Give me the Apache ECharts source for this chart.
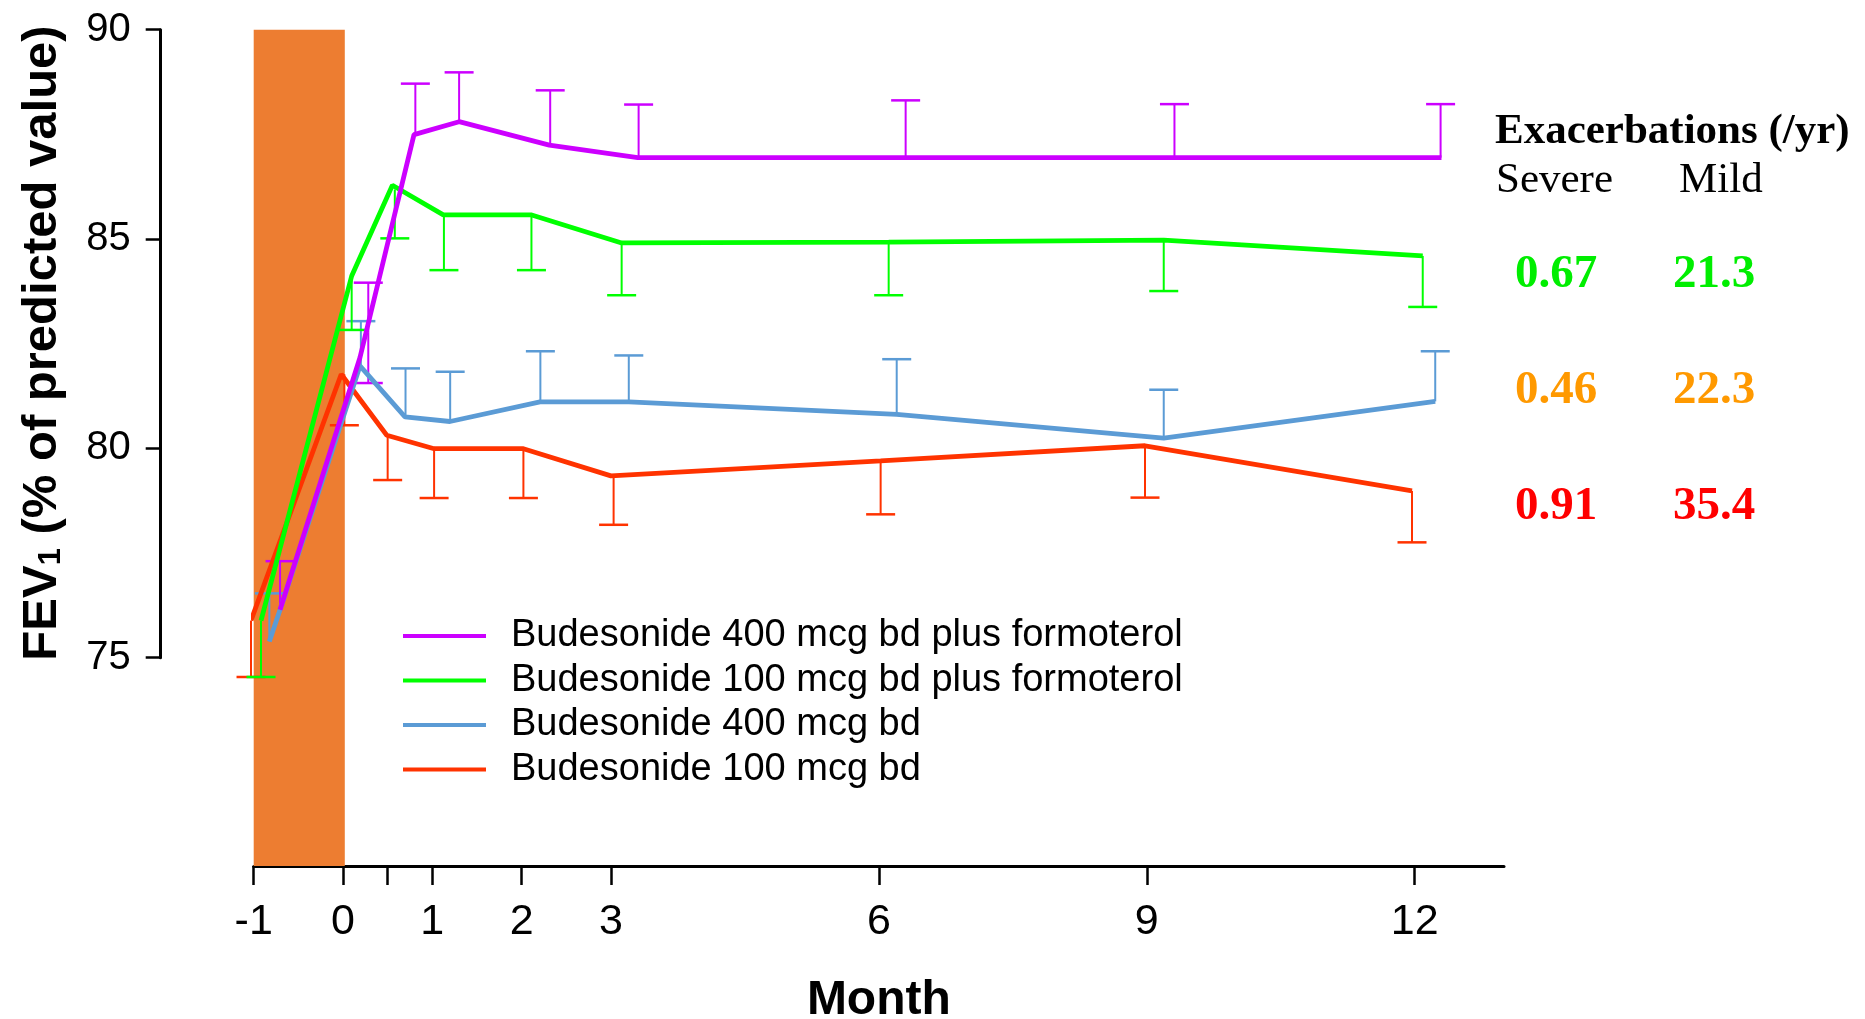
<!DOCTYPE html>
<html>
<head>
<meta charset="utf-8">
<script src="https://cdn.jsdelivr.net/npm/echarts@6/dist/echarts.min.js"></script>
<style>
html,body{margin:0;padding:0;background:#fff;}
#chart{width:1865px;height:1019px;}
</style>
</head>
<body>
<div id="chart"></div>
<script>
// ---------- data ----------
const seriesNames = [
  'Budesonide 400 mcg bd plus formoterol',
  'Budesonide 100 mcg bd plus formoterol',
  'Budesonide 400 mcg bd',
  'Budesonide 100 mcg bd'
];
const seriesColors = ['#CC00FF', '#00FF00', '#5B9BD5', '#FF3300'];

const xTickValues = [-1, 0, 0.5, 1, 2, 3, 6, 9, 12];
const xLabelValues = [-1, 0, 1, 2, 3, 6, 9, 12];
const yLabelValues = [75, 80, 85, 90];
const runInPeriod = [-1.04, 0.02];

// Budesonide 400 + formoterol
const purpleMonths = [-0.705, 0.19, 0.795, 1.30, 2.31, 3.30, 6.30, 9.31, 12.30];
const purpleFEV1   = [76.13, 82.16, 87.49, 87.80, 87.24, 86.94, 86.94, 86.94, 86.94];
const purpleErrMonths = [-0.705, 0.283, 0.283, 0.81, 1.30, 2.32, 3.31, 6.30, 9.31, 12.29];
const purpleErrBase   = [76.13, 82.75, 82.75, 87.49, 87.80, 87.24, 86.94, 86.94, 86.94, 86.94];
const purpleErrCap    = [77.29, 83.95, 81.55, 88.71, 88.98, 88.55, 88.21, 88.31, 88.22, 88.22];

// Budesonide 100 + formoterol
const greenMonths = [-0.918, 0.097, 0.553, 1.123, 2.113, 3.12, 6.11, 9.19, 12.09];
const greenFEV1   = [75.87, 84.11, 86.28, 85.57, 85.57, 84.90, 84.92, 84.97, 84.59];
const greenErrMonths = [-0.918, 0.097, 0.58, 1.13, 2.11, 3.12, 6.11, 9.19, 12.09];
const greenErrBase   = [75.87, 84.11, 86.18, 85.57, 85.57, 84.90, 84.92, 84.97, 84.59];
const greenErrCap    = [74.52, 82.82, 85.01, 84.25, 84.25, 83.65, 83.65, 83.75, 83.37];

// Budesonide 400
const blueMonths = [-0.825, -0.705, 0.19, 0.694, 1.198, 2.206, 3.203, 6.20, 9.19, 12.23];
const blueFEV1   = [75.37, 76.13, 81.96, 80.74, 80.63, 81.10, 81.10, 80.80, 80.23, 81.11];
const blueErrMonths = [-0.825, 0.20, 0.70, 1.20, 2.21, 3.20, 6.20, 9.19, 12.23];
const blueErrBase   = [75.37, 81.96, 80.74, 80.63, 81.10, 81.10, 80.80, 80.23, 81.11];
const blueErrCap    = [76.52, 83.03, 81.90, 81.82, 82.31, 82.21, 82.12, 81.39, 82.31];

// Budesonide 100
const redMonths = [-1.03, -0.02, 0.49, 1.02, 2.02, 3.0, 6.02, 8.98, 11.97];
const redFEV1   = [75.87, 81.76, 80.30, 79.98, 79.98, 79.33, 79.69, 80.05, 78.97];
const redErrMonths = [-1.03, 0.015, 0.50, 1.02, 2.02, 3.03, 6.02, 8.98, 11.97];
const redErrBase   = [75.87, 81.76, 80.30, 79.98, 79.98, 79.33, 79.69, 80.05, 78.97];
const redErrCap    = [74.52, 80.54, 79.23, 78.80, 78.80, 78.16, 78.41, 78.81, 77.74];

// Exacerbation table
const exacTitle = 'Exacerbations (/yr)';
const exacHeaders = ['Severe', 'Mild'];
const exacSevere = ['0.67', '0.46', '0.91'];
const exacMild = ['21.3', '22.3', '35.4'];
const exacColors = ['#00EE00', '#FF9900', '#FF0000'];

// ---------- build ----------
function pairs(xs, ys) { return xs.map((x, i) => [x, ys[i]]); }
function triples(xs, a, b) { return xs.map((x, i) => [x, a[i], b[i]]); }

function errRender(color) {
  return function (params, api) {
    const x = api.value(0), a = api.value(1), b = api.value(2);
    const p1 = api.coord([x, a]);
    const p2 = api.coord([x, b]);
    const hw = 14.5;
    return {
      type: 'group',
      children: [
        { type: 'line', shape: { x1: p1[0], y1: p1[1], x2: p2[0], y2: p2[1] },
          style: { stroke: color, lineWidth: 2 } },
        { type: 'line', shape: { x1: p2[0] - hw, y1: p2[1], x2: p2[0] + hw, y2: p2[1] },
          style: { stroke: color, lineWidth: 2.5 } }
      ]
    };
  };
}

const lineData = [
  pairs(purpleMonths, purpleFEV1),
  pairs(greenMonths, greenFEV1),
  pairs(blueMonths, blueFEV1),
  pairs(redMonths, redFEV1)
];
const errData = [
  triples(purpleErrMonths, purpleErrBase, purpleErrCap),
  triples(greenErrMonths, greenErrBase, greenErrCap),
  triples(blueErrMonths, blueErrBase, blueErrCap),
  triples(redErrMonths, redErrBase, redErrCap)
];

const series = [];
// shaded run-in period
series.push({
  type: 'line', xAxisIndex: 0, yAxisIndex: 0, data: [], silent: true, z: 1, clip: false,
  markArea: {
    silent: true,
    itemStyle: { color: '#ED7D31', opacity: 1 },
    data: [[{ xAxis: runInPeriod[0], yAxis: 90 }, { xAxis: runInPeriod[1], yAxis: 69.95 }]]
  }
});
// draw order: red, blue, green, purple
[3, 2, 1, 0].forEach(i => {
  series.push({
    name: seriesNames[i], type: 'line', xAxisIndex: 0, yAxisIndex: 0,
    data: lineData[i], symbol: 'none', color: seriesColors[i], clip: false,
    lineStyle: { width: 4.8, color: seriesColors[i] }, z: 3
  });
  series.push({
    name: seriesNames[i] + ' SE', type: 'custom', xAxisIndex: 0, yAxisIndex: 0, clip: false,
    data: errData[i], renderItem: errRender(seriesColors[i]), z: 3
  });
});

const gridLeft = 253.7, gridRight = 361, gridTop = 29.7;

const graphics = [];
graphics.push({
  type: 'text', x: 41, y: 343, rotation: Math.PI / 2,
  style: {
    text: '{a|FEV}{s|1}{a| (% of predicted value)}',
    rich: {
      a: { fontSize: 49, fontWeight: 'bold', fontFamily: 'Liberation Sans', fill: '#000', lineHeight: 52, verticalAlign: 'bottom' },
      s: { fontSize: 31, fontWeight: 'bold', fontFamily: 'Liberation Sans', fill: '#000', lineHeight: 30, verticalAlign: 'bottom' }
    },
    align: 'center', verticalAlign: 'middle', textAlign: 'center', textVerticalAlign: 'middle'
  }
});
graphics.push({
  type: 'text', x: 1495, y: 132,
  style: { text: exacTitle, font: 'bold 43px "Liberation Serif"', fill: '#000',
           align: 'left', verticalAlign: 'middle', textAlign: 'left', textVerticalAlign: 'middle' }
});
const colX = [1496, 1679];
exacHeaders.forEach((h, j) => {
  graphics.push({
    type: 'text', x: colX[j], y: 181,
    style: { text: h, font: '43px "Liberation Serif"', fill: '#000',
             align: 'left', verticalAlign: 'middle', textAlign: 'left', textVerticalAlign: 'middle' }
  });
});
const rowY = [275.3, 390.7, 507.3];
const valX = [1515, 1673];
rowY.forEach((y, r) => {
  [exacSevere[r], exacMild[r]].forEach((t, j) => {
    graphics.push({
      type: 'text', x: valX[j], y: y,
      style: { text: t, font: 'bold 47px "Liberation Serif"', fill: exacColors[r],
               align: 'left', verticalAlign: 'middle', textAlign: 'left', textVerticalAlign: 'middle' }
    });
  });
});

const option = {
  animation: false,
  backgroundColor: '#fff',
  grid: [
    { left: gridLeft, right: gridRight, top: gridTop, bottom: 153, containLabel: false, outerBoundsMode: 'none' },
    { left: gridLeft, right: gridRight, top: gridTop, bottom: 361.3, containLabel: false, outerBoundsMode: 'none' }
  ],
  xAxis: [
    {
      gridIndex: 0, type: 'value', min: -1, max: 13,
      axisLine: { show: true, onZero: false, lineStyle: { color: '#000', width: 3 } },
      axisTick: { show: true, inside: false, length: 19, customValues: xTickValues,
                  lineStyle: { color: '#000', width: 2.5 } },
      axisLabel: { show: true, customValues: xLabelValues, margin: 35, fontSize: 43,
                   fontFamily: 'Liberation Sans', color: '#000' },
      splitLine: { show: false },
      name: 'Month', nameLocation: 'middle', nameGap: 111,
      nameTextStyle: { fontSize: 48, fontWeight: 'bold', fontFamily: 'Liberation Sans', color: '#000' }
    },
    { gridIndex: 1, type: 'value', min: -1, max: 13, show: false }
  ],
  yAxis: [
    { gridIndex: 0, type: 'value', min: 70, max: 90, show: false, splitLine: { show: false } },
    {
      gridIndex: 1, type: 'value', min: 75, max: 90, interval: 5, offset: 93,
      axisLine: { show: true, onZero: false, lineStyle: { color: '#000', width: 3 } },
      axisTick: { show: true, inside: false, length: 15, lineStyle: { color: '#000', width: 2.5 } },
      axisLabel: { show: true, customValues: yLabelValues, margin: 30, fontSize: 40,
                   fontFamily: 'Liberation Sans', color: '#000' },
      splitLine: { show: false }
    }
  ],
  legend: {
    data: seriesNames, orient: 'vertical', left: 398, top: 611,
    itemWidth: 83, itemHeight: 4, itemGap: 4.5, icon: 'rect',
    textStyle: { fontSize: 38, fontFamily: 'Liberation Sans', color: '#000', lineHeight: 40,
                 padding: [0, 0, 0, 20] },
    selectedMode: false
  },
  graphic: graphics,
  series: series
};

const chart = echarts.init(document.getElementById('chart'), null, { renderer: 'canvas' });
chart.setOption(option);
</script>
</body>
</html>
